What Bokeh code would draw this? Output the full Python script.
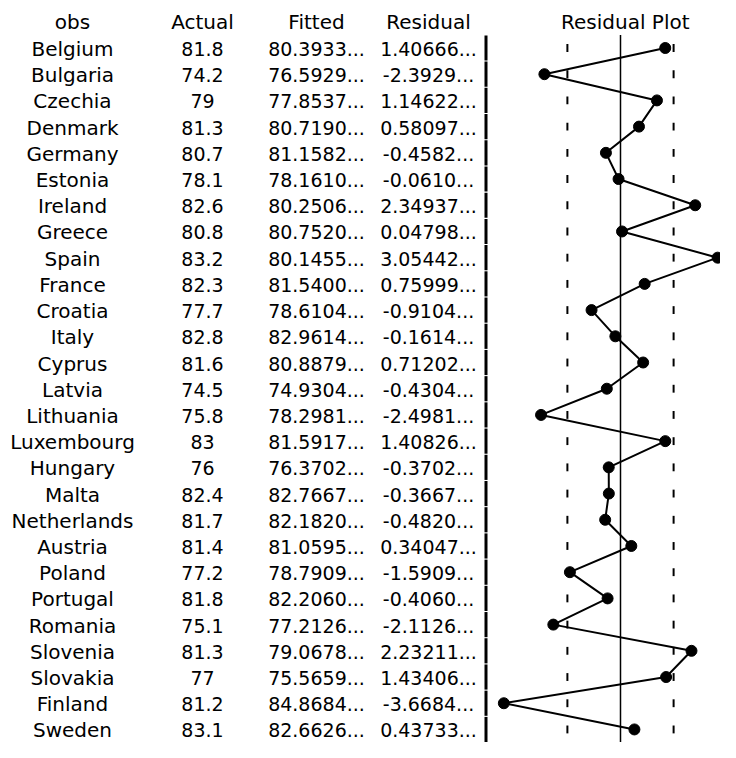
from bokeh.plotting import figure
from bokeh.models import ColumnDataSource, Range1d
from bokeh.core.properties import value
from bokeh.embed import file_html
from bokeh.resources import INLINE

countries = ["Belgium", "Bulgaria", "Czechia", "Denmark", "Germany", "Estonia", "Ireland",
             "Greece", "Spain", "France", "Croatia", "Italy", "Cyprus", "Latvia", "Lithuania",
             "Luxembourg", "Hungary", "Malta", "Netherlands", "Austria", "Poland", "Portugal",
             "Romania", "Slovenia", "Slovakia", "Finland", "Sweden"]
actual = [81.8, 74.2, 79, 81.3, 80.7, 78.1, 82.6, 80.8, 83.2, 82.3, 77.7, 82.8, 81.6, 74.5,
          75.8, 83, 76, 82.4, 81.7, 81.4, 77.2, 81.8, 75.1, 81.3, 77, 81.2, 83.1]
fitted = [80.3933, 76.5929, 77.8537, 80.7190, 81.1582, 78.1610, 80.2506, 80.7520, 80.1455,
          81.5400, 78.6104, 82.9614, 80.8879, 74.9304, 78.2981, 81.5917, 76.3702, 82.7667,
          82.1820, 81.0595, 78.7909, 82.2060, 77.2126, 79.0678, 75.5659, 84.8684, 82.6626]
resid = [1.40666, -2.3929, 1.14622, 0.58097, -0.4582, -0.0610, 2.34937, 0.04798, 3.05442,
         0.75999, -0.9104, -0.1614, 0.71202, -0.4304, -2.4981, 1.40826, -0.3702, -0.3667,
         -0.4820, 0.34047, -1.5909, -0.4060, -2.1126, 2.23211, 1.43406, -3.6684, 0.43733]
headers = ["obs", "Actual", "Fitted", "Residual"]
plot_title = "Residual Plot"
se = 1.67  # standard error band

W, H = 720, 742
rows = list(range(len(countries)))

def trunc(v):
    return f"{v:.6f}"[:7] + "..."

p = figure(width=W, height=H, output_backend="svg", toolbar_location=None,
           x_range=Range1d(0, W), y_range=Range1d(26.498, -1.812),
           min_border=0, outline_line_color=None, background_fill_color="white",
           border_fill_color="white")
p.axis.visible = False
p.xgrid.visible = False
p.ygrid.visible = False
p.extra_x_ranges = {"res": Range1d(-19.497, 3.1447)}

font = value("DejaVu Sans")
col_x = [72, 202, 316, 428]
col_size = ["20px", "19px", "19px", "19px"]

# header
hsrc = ColumnDataSource(dict(x=col_x, y=[-1] * 4, t=headers))
p.text(x="x", y="y", text="t", source=hsrc, text_font=font, text_font_size="20px",
       text_align="center", text_baseline="middle", text_color="black")
p.text(x=[0.15], y=[-1], text=[plot_title], x_range_name="res", text_font=font,
       text_font_size="20px", text_align="center", text_baseline="middle",
       text_color="black")

# table body
cols = [countries, [f"{a:g}" for a in actual], [trunc(f) for f in fitted], [trunc(r) for r in resid]]
for cx, fs, vals in zip(col_x, col_size, cols):
    src = ColumnDataSource(dict(x=[cx] * len(rows), y=rows, t=vals))
    p.text(x="x", y="y", text="t", source=src, text_font=font, text_font_size=fs,
           text_align="center", text_baseline="middle", text_color="black", y_offset=1)

# separator
sep_x = 485.5
p.segment(x0=[sep_x] * len(rows), y0=[r - 0.48 for r in rows],
          x1=[sep_x] * len(rows), y1=[r + 0.48 for r in rows],
          line_color="black", line_width=3)

# zero line
p.segment(x0=[0], y0=[-0.5], x1=[0], y1=[len(rows) + 0.5], x_range_name="res",
          line_color="black", line_width=1.5)

# +/- se dashes per row
for s in (-se, se):
    p.segment(x0=[s] * len(rows), y0=[r - 0.15 for r in rows],
              x1=[s] * len(rows), y1=[r + 0.15 for r in rows],
              x_range_name="res", line_color="black", line_width=2)

# residual line + points
p.line(x=resid, y=rows, x_range_name="res", line_color="black", line_width=2)
p.scatter(x=resid, y=rows, x_range_name="res", size=11, fill_color="black",
          line_color="black")

open("out.html", "w").write(file_html(p, INLINE))
